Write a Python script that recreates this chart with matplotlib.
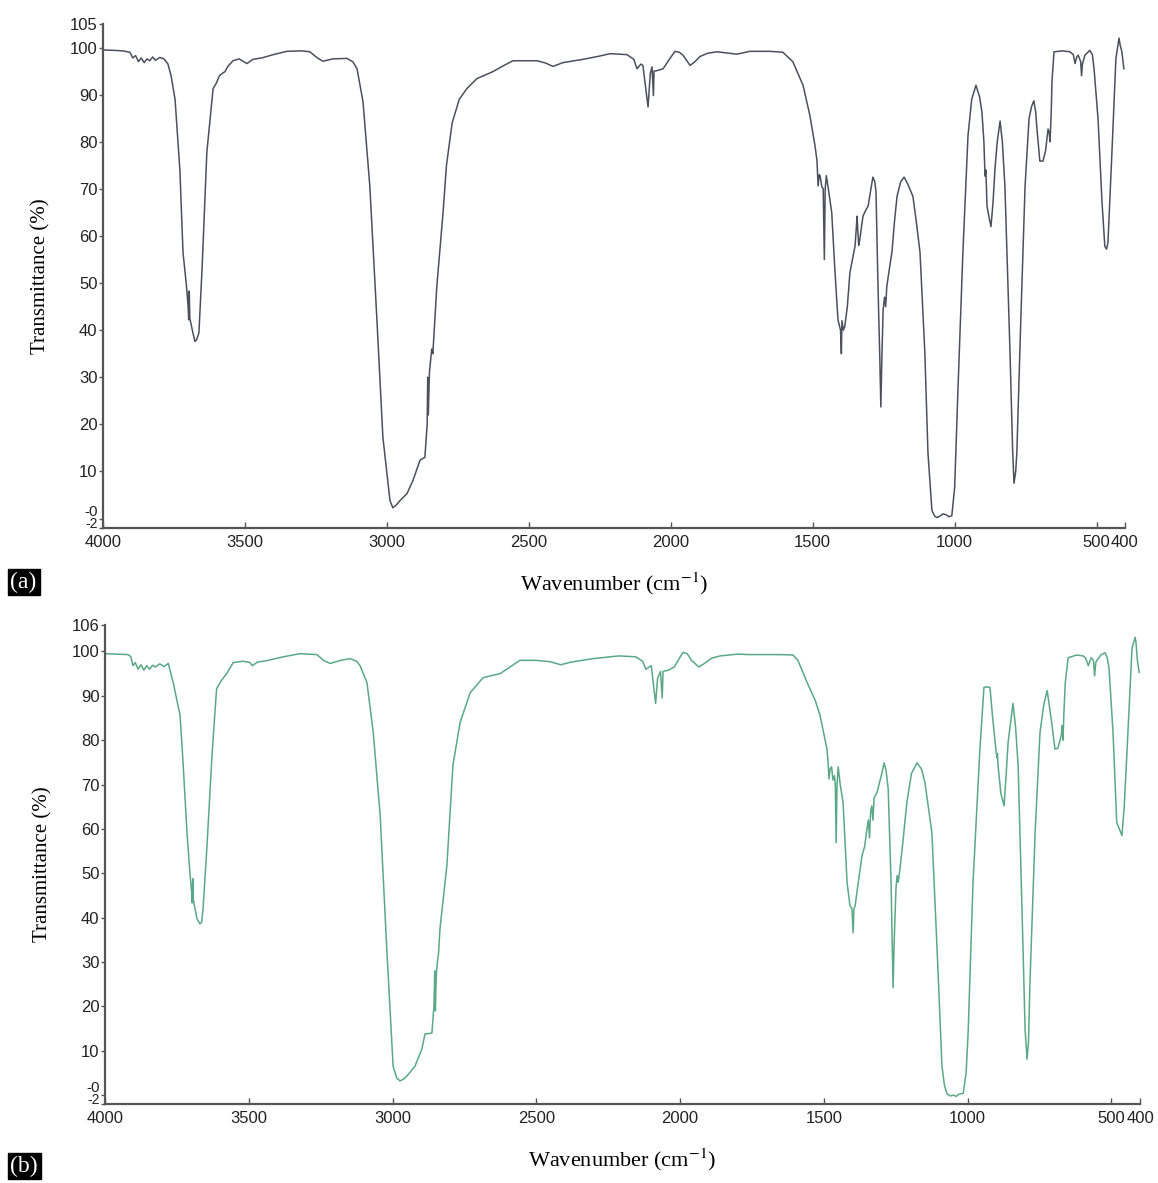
import matplotlib
matplotlib.use('Agg')
import matplotlib.pyplot as plt

# spectrum (a) - wavenumber (cm-1) and transmittance (%)
wn_a = [4000, 3960, 3930, 3905, 3895, 3885, 3875, 3865, 3855, 3845, 3835, 3825, 3815, 3800, 3785,
        3771, 3760, 3746, 3729, 3718, 3706, 3700, 3698, 3696, 3694, 3683, 3676, 3670, 3662, 3651,
        3634, 3612, 3600, 3590, 3580, 3570, 3560, 3542, 3520, 3493, 3472, 3440, 3400, 3352, 3300,
        3271, 3245, 3225, 3190, 3141, 3120, 3105, 3084, 3060, 3035, 3014, 2989, 2979, 2968, 2954,
        2929, 2908, 2883, 2866, 2858, 2856, 2854, 2850, 2845, 2842, 2838, 2824, 2802, 2790, 2770,
        2745, 2718, 2683, 2626, 2600, 2556, 2471, 2440, 2415, 2380, 2309, 2250, 2214, 2154, 2130,
        2119, 2105, 2098, 2080, 2072, 2066, 2061, 2059, 2049, 2027, 2005, 1985, 1970, 1957, 1932,
        1915, 1897, 1870, 1837, 1767, 1721, 1650, 1605, 1570, 1534, 1510, 1492, 1485, 1481, 1477,
        1474, 1468, 1463, 1459, 1456, 1452, 1445, 1433, 1422, 1411, 1402, 1399, 1397, 1392, 1387,
        1378, 1369, 1360, 1351, 1346, 1344, 1338, 1334, 1328, 1323, 1313, 1305, 1295, 1288, 1281,
        1277, 1270, 1264, 1260, 1256, 1252, 1247, 1243, 1239, 1230, 1221, 1212, 1203, 1190, 1178,
        1165, 1147, 1135, 1122, 1105, 1094, 1080, 1070, 1062, 1050, 1041, 1030, 1020, 1010, 1000,
        988, 971, 953, 940, 925, 912, 904, 897, 893, 890, 886, 879, 872, 865, 858,
        850, 840, 832, 823, 805, 796, 791, 785, 781, 767, 752, 738, 729, 721, 715,
        710, 700, 689, 680, 671, 667, 664, 660, 657, 650, 620, 594, 582, 576, 570,
        565, 556, 553, 550, 541, 524, 515, 509, 495, 481, 471, 465, 460, 446, 432,
        421, 417, 411, 404]
t_a = [99.5, 99.4, 99.3, 99.0, 97.8, 98.3, 97.0, 97.8, 96.8, 97.6, 97.2, 98.0, 97.3, 97.9, 97.6,
       96.5, 94.0, 89.0, 74.0, 56.5, 49.5, 45.0, 42.2, 48.3, 42.5, 39.4, 37.6, 38.0, 39.4, 52.9,
       77.8, 91.3, 92.5, 94.0, 94.5, 94.9, 96.0, 97.2, 97.6, 96.6, 97.5, 97.8, 98.5, 99.2, 99.3,
       99.1, 97.8, 97.1, 97.6, 97.7, 97.0, 95.5, 88.5, 70.6, 42.2, 17.3, 3.8, 2.3, 2.8, 3.8,
       5.3, 8.1, 12.4, 13.0, 20.0, 30.0, 22.0, 31.0, 34.0, 36.0, 35.0, 49.3, 65.0, 75.0, 84.0,
       89.0, 91.3, 93.4, 94.9, 95.8, 97.2, 97.2, 96.7, 96.0, 96.8, 97.5, 98.2, 98.7, 98.5, 97.5,
       95.5, 96.5, 96.2, 87.4, 94.5, 95.9, 89.8, 95.0, 95.1, 95.5, 97.5, 99.2, 99.0, 98.4, 96.2,
       97.0, 98.1, 98.8, 99.1, 98.6, 99.2, 99.2, 99.0, 97.0, 92.0, 85.6, 79.2, 76.0, 70.6, 73.0,
       72.8, 70.5, 70.0, 55.0, 70.0, 72.8, 70.0, 65.0, 52.9, 42.2, 40.0, 35.0, 42.0, 40.0, 40.8,
       45.0, 52.2, 55.0, 57.8, 62.0, 64.2, 58.0, 59.3, 62.0, 64.2, 65.5, 66.3, 70.0, 72.5, 71.5,
       69.3, 49.3, 35.0, 23.7, 35.0, 44.3, 47.0, 45.0, 49.3, 53.0, 56.5, 63.0, 68.4, 71.5, 72.5,
       71.0, 68.4, 63.0, 56.5, 35.2, 13.9, 1.7, 0.5, 0.2, 0.6, 1.0, 0.8, 0.4, 0.6, 6.6,
       28.0, 56.5, 81.3, 89.0, 92.0, 89.5, 86.3, 80.0, 72.7, 74.0, 66.3, 64.0, 62.0, 67.0, 74.2,
       80.0, 84.4, 80.0, 70.6, 35.2, 15.0, 7.5, 10.0, 13.9, 42.2, 70.6, 84.9, 87.5, 88.7, 86.5,
       82.7, 75.9, 75.9, 78.0, 82.7, 82.0, 80.0, 86.0, 93.0, 99.1, 99.3, 99.1, 98.5, 96.6, 98.0,
       98.4, 97.0, 94.0, 96.5, 98.4, 99.4, 98.5, 95.5, 84.9, 67.2, 57.8, 57.2, 58.6, 77.8, 97.7,
       102.0, 100.5, 99.1, 95.5]

# spectrum (b)
wn_b = [4000, 3960, 3920, 3910, 3903, 3895, 3885, 3875, 3865, 3855, 3845, 3835, 3825, 3810, 3795,
        3780, 3763, 3739, 3728, 3715, 3704, 3699, 3697, 3695, 3693, 3680, 3670, 3664, 3659, 3646,
        3628, 3612, 3595, 3577, 3554, 3520, 3496, 3488, 3470, 3440, 3380, 3322, 3263, 3240, 3217,
        3180, 3148, 3125, 3113, 3089, 3067, 3043, 3020, 2998, 2985, 2974, 2962, 2950, 2922, 2898,
        2887, 2870, 2863, 2856, 2853, 2851, 2848, 2844, 2840, 2835, 2811, 2790, 2765, 2730, 2685,
        2626, 2557, 2500, 2452, 2415, 2380, 2300, 2214, 2154, 2130, 2119, 2100, 2085, 2078, 2068,
        2062, 2059, 2040, 2020, 1990, 1975, 1960, 1935, 1915, 1890, 1860, 1800, 1757, 1650, 1607,
        1590, 1558, 1530, 1513, 1489, 1485, 1482, 1478, 1473, 1468, 1463, 1460, 1457, 1454, 1450,
        1443, 1433, 1419, 1409, 1402, 1398, 1395, 1391, 1380, 1367, 1358, 1350, 1345, 1341, 1337,
        1333, 1329, 1325, 1315, 1300, 1290, 1283, 1276, 1266, 1262, 1259, 1255, 1249, 1245, 1241,
        1235, 1225, 1211, 1195, 1176, 1160, 1148, 1124, 1106, 1089, 1080, 1071, 1060, 1049, 1040,
        1030, 1015, 1005, 998, 981, 957, 943, 935, 930, 922, 914, 904, 898, 896, 894,
        884, 873, 866, 859, 842, 833, 824, 807, 800, 793, 788, 783, 765, 748, 735,
        723, 715, 706, 696, 686, 678, 673, 671, 668, 665, 660, 650, 620, 598, 590,
        580, 570, 562, 558, 554, 548, 535, 522, 515, 508, 494, 481, 472, 463, 455,
        445, 428, 417, 414, 410, 403]
t_b = [99.5, 99.4, 99.3, 98.8, 96.8, 97.5, 96.0, 97.0, 95.8, 96.8, 96.0, 96.9, 96.5, 97.2, 96.6,
       97.3, 93.0, 85.6, 74.3, 59.2, 49.4, 46.0, 43.3, 48.8, 44.0, 39.7, 38.6, 39.0, 42.0, 55.5,
       76.5, 91.6, 93.5, 95.0, 97.5, 97.8, 97.5, 96.8, 97.6, 97.9, 98.8, 99.5, 99.3, 98.0, 97.3,
       98.0, 98.4, 97.8, 96.8, 93.0, 81.7, 63.0, 33.0, 6.5, 3.8, 3.2, 3.6, 4.3, 6.5, 10.4,
       13.8, 13.9, 14.0, 20.0, 28.0, 19.0, 27.0, 30.0, 32.0, 37.5, 51.7, 74.3, 84.0, 90.7, 94.1,
       95.0, 98.0, 98.0, 97.7, 97.0, 97.6, 98.4, 99.0, 98.8, 97.8, 96.0, 96.8, 88.3, 94.0, 95.5,
       89.5, 95.5, 95.8, 96.5, 99.8, 99.5, 98.0, 96.5, 97.3, 98.5, 99.0, 99.4, 99.3, 99.3, 99.2,
       98.0, 93.0, 89.0, 85.6, 78.0, 75.0, 71.3, 73.5, 74.0, 71.0, 72.0, 70.0, 56.9, 70.0, 74.0,
       70.0, 66.0, 47.9, 42.7, 42.0, 36.6, 42.0, 42.7, 48.0, 54.0, 56.0, 60.0, 62.0, 58.0, 64.0,
       65.2, 62.0, 67.0, 68.2, 72.0, 74.9, 73.0, 69.0, 47.9, 35.0, 24.2, 35.0, 46.5, 49.5, 48.0,
       51.0, 57.0, 66.0, 72.5, 74.9, 73.5, 70.4, 59.1, 33.0, 6.5, 2.0, 0.3, -0.2, 0.0, -0.3,
       0.2, 0.4, 5.0, 14.0, 47.9, 78.0, 91.9, 92.0, 92.0, 91.9, 86.0, 79.5, 76.0, 77.0, 74.3,
       68.0, 65.2, 72.0, 79.5, 88.3, 83.0, 74.3, 33.0, 15.0, 8.1, 12.0, 25.3, 59.1, 81.7, 88.0,
       91.2, 87.5, 83.3, 78.0, 78.2, 80.0, 81.5, 83.3, 80.0, 86.0, 93.0, 98.6, 99.2, 99.0, 98.6,
       96.8, 98.6, 98.0, 94.5, 97.5, 98.2, 99.3, 99.7, 98.8, 96.4, 81.7, 61.4, 60.0, 58.5, 65.0,
       78.0, 100.7, 103.2, 102.0, 98.4, 95.3]

x_ticks = [4000, 3500, 3000, 2500, 2000, 1500, 1000, 500, 400]
y_ticks_a = [105, 100, 90, 80, 70, 60, 50, 40, 30, 20, 10, 0, -2]
y_ticks_b = [106, 100, 90, 80, 70, 60, 50, 40, 30, 20, 10, 0, -2]

plt.rcParams['mathtext.fontset'] = 'stix'
TICK_FONT = ['Liberation Sans Narrow', 'Liberation Sans', 'DejaVu Sans']
SERIF = ['Liberation Serif', 'DejaVu Serif']


def y_label_text(v):
    return '-0' if v == 0 else str(v)


def draw_panel(ax, wn, t, yticks, color):
    """one IR spectrum with the old-style axes"""
    ax.plot(wn, t, color=color, lw=1.1)
    ax.set_xlim(4000, 400)
    ax.set_ylim(-2, yticks[0])
    ax.set_xticks(x_ticks)
    ax.set_xticklabels([str(v) for v in x_ticks], fontfamily=TICK_FONT, fontsize=12, color='#222222')
    ax.set_yticks(yticks)
    ax.set_yticklabels([y_label_text(v) for v in yticks], fontfamily=TICK_FONT, fontsize=12,
                       color='#222222')
    # the two lowest labels are squeezed together just above their ticks
    ylabels = ax.get_yticklabels()
    ylabels[-2].set_va('bottom')
    ylabels[-2].set_fontsize(11)
    ylabels[-1].set_va('baseline')
    ylabels[-1].set_fontsize(10)
    ax.spines['top'].set_visible(False)
    ax.spines['right'].set_visible(False)
    for side in ('left', 'bottom'):
        ax.spines[side].set_linewidth(1.6)
        ax.spines[side].set_color('#555555')
    ax.tick_params(axis='y', direction='out', length=3, width=1, pad=1, colors='#555555',
                   labelcolor='#222222')
    ax.tick_params(axis='x', direction='in', length=4, width=1, pad=5, colors='#555555',
                   labelcolor='#222222')
    ax.set_xlabel(r'Wavenumber (cm$^{-1}$)', fontfamily=SERIF, fontsize=16, labelpad=15)
    ax.set_ylabel('Transmittance (%)', fontfamily=SERIF, fontsize=15, labelpad=14)


fig = plt.figure(figsize=(11.58, 11.83), dpi=100)
ax_a = fig.add_axes([0.0889, 0.5537, 0.8826, 0.426])
ax_b = fig.add_axes([0.0907, 0.0668, 0.8938, 0.405])

draw_panel(ax_a, wn_a, t_a, y_ticks_a, '#4b505c')
draw_panel(ax_b, wn_b, t_b, y_ticks_b, '#5aa887')

# panel letters, white on black
box = dict(facecolor='black', edgecolor='black', pad=2)
fig.text(0.009, 1 - 582 / 1183, '(a)', color='white', fontfamily=SERIF, fontsize=17,
         va='center', ha='left', bbox=box)
fig.text(0.009, 1 - 1166 / 1183, '(b)', color='white', fontfamily=SERIF, fontsize=17,
         va='center', ha='left', bbox=box)

plt.savefig('out.png', dpi=100)
